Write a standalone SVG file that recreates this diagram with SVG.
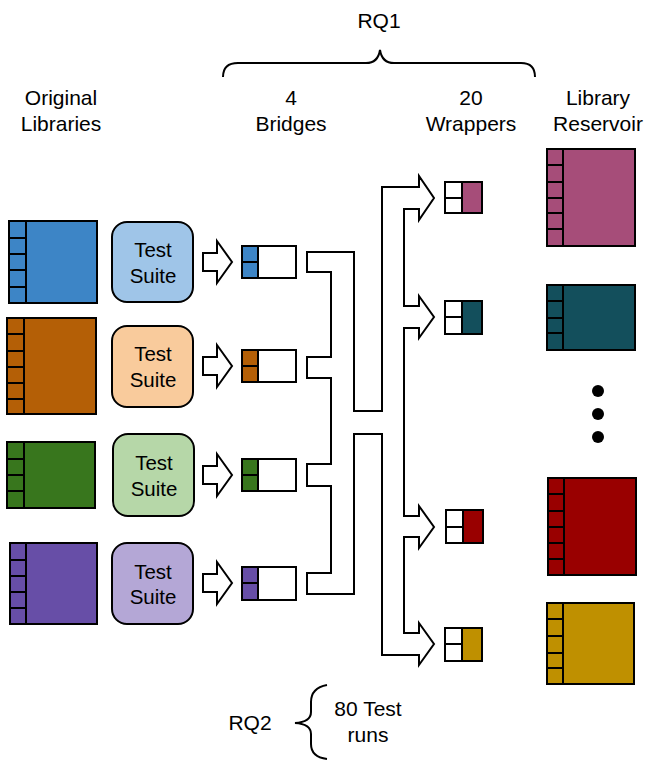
<svg xmlns="http://www.w3.org/2000/svg" width="645" height="760" viewBox="0 0 645 760">
<style>
text{font-family:"Liberation Sans",Arial,sans-serif;font-size:21px;fill:#000;text-anchor:middle}
.s{font-size:20.5px}
.o{stroke:#000;stroke-width:2;stroke-linejoin:miter}
.l{stroke:#000;stroke-width:2;fill:none}
.ts{stroke:#000;stroke-width:2}
.w{fill:#fff;stroke:#000;stroke-width:2}
</style>
<rect width="645" height="760" fill="#fff"/>
<g id="labels">
<text x="61" y="105">Original</text>
<text x="61" y="131">Libraries</text>
<text x="291" y="105">4</text>
<text x="291" y="131">Bridges</text>
<text x="471" y="105">20</text>
<text x="471" y="131">Wrappers</text>
<text x="598" y="105">Library</text>
<text x="598" y="131">Reservoir</text>
<text x="379" y="28">RQ1</text>
<text x="250" y="730">RQ2</text>
<text x="368" y="716">80 Test</text>
<text x="368" y="742">runs</text>
</g>
<g id="braces">
<path class="l" d="M223,77 Q223,63 238,63 H366 Q378,63 380,50 Q382,63 394,63 H521 Q535,63 535,77"/>
<path class="l" d="M327,685 Q311,688 311,702 V712 Q311,722 295,723 Q311,724 311,734 V744 Q311,757 327,759"/>
</g>
<g id="lib-blue">
<rect class="o" x="9" y="221" width="88" height="82" fill="#3d85c6"/>
<path class="l" d="M26,221V303M9,238H26M9,254H26M9,270H26M9,287H26"/>
</g>
<g id="lib-orange">
<rect class="o" x="7" y="318" width="89" height="96" fill="#b45f06"/>
<path class="l" d="M24,318V414M7,334H24M7,351H24M7,367H24M7,383H24M7,399H24"/>
</g>
<g id="lib-green">
<rect class="o" x="7" y="442" width="88" height="66" fill="#38761d"/>
<path class="l" d="M24,442V508M7,459H24M7,475H24M7,491H24"/>
</g>
<g id="lib-purple">
<rect class="o" x="10" y="543" width="87" height="81" fill="#674ea7"/>
<path class="l" d="M26,543V624M10,560H26M10,576H26M10,592H26M10,608H26"/>
</g>
<g id="suite-blue">
<rect class="ts" x="112" y="222" width="81" height="80" rx="15" fill="#9fc5e8"/>
<text class="s" x="153" y="257">Test</text><text class="s" x="153" y="283">Suite</text>
</g>
<g id="suite-orange">
<rect class="ts" x="112" y="326" width="81" height="81" rx="15" fill="#f9cb9c"/>
<text class="s" x="153" y="361">Test</text><text class="s" x="153" y="387">Suite</text>
</g>
<g id="suite-green">
<rect class="ts" x="113" y="434" width="81" height="82" rx="15" fill="#b6d7a8"/>
<text class="s" x="154" y="470">Test</text><text class="s" x="154" y="496">Suite</text>
</g>
<g id="suite-purple">
<rect class="ts" x="112" y="543" width="81" height="81" rx="15" fill="#b4a7d6"/>
<text class="s" x="153" y="579">Test</text><text class="s" x="153" y="604">Suite</text>
</g>
<g id="bridge-blue">
<rect class="w" x="242" y="246" width="54" height="32"/>
<rect class="o" x="242" y="246" width="16" height="32" fill="#3d85c6"/>
<path class="l" d="M242,262H258"/>
</g>
<g id="bridge-orange">
<rect class="w" x="242" y="350" width="54" height="32"/>
<rect class="o" x="242" y="350" width="16" height="32" fill="#b45f06"/>
<path class="l" d="M242,366H258"/>
</g>
<g id="bridge-green">
<rect class="w" x="242" y="459" width="54" height="32"/>
<rect class="o" x="242" y="459" width="16" height="32" fill="#38761d"/>
<path class="l" d="M242,475H258"/>
</g>
<g id="bridge-purple">
<rect class="w" x="242" y="567" width="54" height="33"/>
<rect class="o" x="242" y="567" width="16" height="33" fill="#674ea7"/>
<path class="l" d="M242,583H258"/>
</g>
<g id="wrapper-magenta">
<rect class="w" x="445" y="182" width="37" height="31"/>
<rect class="o" x="462" y="182" width="20" height="31" fill="#a64d79"/>
<path class="l" d="M445,198H462"/>
</g>
<g id="wrapper-teal">
<rect class="w" x="445" y="301" width="37" height="33"/>
<rect class="o" x="462" y="301" width="20" height="33" fill="#134f5c"/>
<path class="l" d="M445,317H462"/>
</g>
<g id="wrapper-red">
<rect class="w" x="446" y="510" width="37" height="33"/>
<rect class="o" x="463" y="510" width="20" height="33" fill="#990000"/>
<path class="l" d="M446,527H463"/>
</g>
<g id="wrapper-gold">
<rect class="w" x="445" y="628" width="37" height="33"/>
<rect class="o" x="462" y="628" width="20" height="33" fill="#bf9000"/>
<path class="l" d="M445,644H462"/>
</g>
<g id="res-magenta">
<rect class="o" x="547" y="149" width="88" height="97" fill="#a64d79"/>
<path class="l" d="M563,149V246M547,165H563M547,182H563M547,198H563M547,213H563M547,229H563"/>
</g>
<g id="res-teal">
<rect class="o" x="547" y="285" width="88" height="65" fill="#134f5c"/>
<path class="l" d="M563,285V350M547,301H563M547,318H563M547,333H563"/>
</g>
<g id="res-dots">
<circle cx="598" cy="391" r="6" fill="#000"/>
<circle cx="598" cy="414" r="6" fill="#000"/>
<circle cx="598" cy="437" r="6" fill="#000"/>
</g>
<g id="res-red">
<rect class="o" x="548" y="478" width="88" height="97" fill="#990000"/>
<path class="l" d="M564,478V575M548,494H564M548,511H564M548,527H564M548,543H564M548,559H564"/>
</g>
<g id="res-gold">
<rect class="o" x="547" y="603" width="87" height="81" fill="#bf9000"/>
<path class="l" d="M563,603V684M547,619H563M547,636H563M547,653H563M547,668H563"/>
</g>
<g id="connectors">
<path class="w" d="M203,253H217V241L232,262L217,283V271H203Z"/>
<path class="w" d="M203,357H217V345L232,366L217,387V375H203Z"/>
<path class="w" d="M203,466H217V454L232,475L217,496V484H203Z"/>
<path class="w" d="M203,574H217V562L232,583L217,604V592H203Z"/>
<path class="w" d="M307,252H354V411H382V187H419V176L434,198L419,220V209H404V306H419V296L434,317L419,338V328H404V516H419V506L434,527L419,548V537H404V633H419V623L434,644L419,665V655H382V434H354V594H307V573H331V486H307V464H331V378H307V357H331V272H307Z"/>
</g>
</svg>
